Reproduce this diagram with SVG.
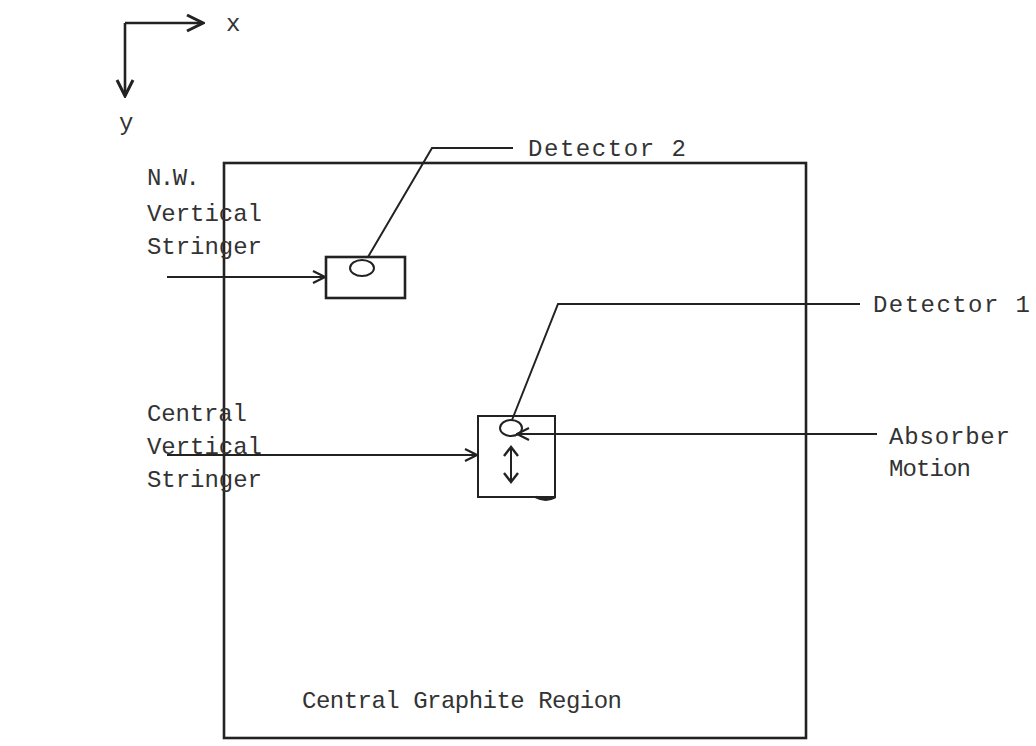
<svg xmlns="http://www.w3.org/2000/svg" width="1036" height="746" viewBox="0 0 1036 746">
<style>
.ln{fill:none;stroke:#222;stroke-width:2}
.th{fill:none;stroke:#222;stroke-width:2.6}
text{font-family:"Liberation Mono","Courier New",monospace;font-size:24px;fill:#333}
</style>
<defs>
<marker id="ah" viewBox="0 0 14 14" refX="13" refY="7" markerWidth="14" markerHeight="14" markerUnits="userSpaceOnUse" orient="auto">
<path d="M1,1 L13,7 L1,13" fill="none" stroke="#222" stroke-width="2.2"/>
</marker>
<marker id="ahb" viewBox="0 0 20 20" refX="18" refY="10" markerWidth="20" markerHeight="20" markerUnits="userSpaceOnUse" orient="auto">
<path d="M2,2 L18,10 L2,18" fill="none" stroke="#222" stroke-width="3"/>
</marker>
</defs>
<rect width="1036" height="746" fill="#fff"/>
<g id="axes">
<path class="th" d="M125,23 L203,23" marker-end="url(#ahb)"/>
<path class="th" d="M125,23 L125,96" marker-end="url(#ahb)"/>
<text x="226" y="31">x</text>
<text x="119" y="130">y</text>
</g>
<g id="region">
<rect class="th" x="224" y="163" width="582" height="575"/>
<text x="302" y="708" textLength="320" lengthAdjust="spacing">Central Graphite Region</text>
</g>
<g id="nw-stringer">
<rect class="th" x="326" y="257" width="79" height="41"/>
<ellipse class="ln" cx="362" cy="268" rx="12" ry="8"/>
</g>
<g id="central-stringer">
<rect class="ln" x="478" y="416" width="77" height="81"/>
<ellipse class="ln" cx="511" cy="428" rx="11" ry="8"/>
<path d="M536,497 Q546,502 555,497" fill="none" stroke="#222" stroke-width="3"/>
<path class="ln" d="M511,449 L511,480"/>
<path d="M504,456 L511,447 L518,456 M504,473 L511,482 L518,473" fill="none" stroke="#222" stroke-width="2.4"/>
</g>
<g id="labels">
<text x="147" y="185" textLength="53" lengthAdjust="spacing">N.W.</text>
<text x="147" y="221" textLength="115" lengthAdjust="spacing">Vertical</text>
<text x="147" y="254" textLength="115" lengthAdjust="spacing">Stringer</text>
<text x="147" y="421" textLength="100" lengthAdjust="spacing">Central</text>
<text x="147" y="454" textLength="115" lengthAdjust="spacing">Vertical</text>
<text x="147" y="487" textLength="115" lengthAdjust="spacing">Stringer</text>
<text x="528" y="156" textLength="158" lengthAdjust="spacing">Detector 2</text>
<text x="873" y="312" textLength="157" lengthAdjust="spacing">Detector 1</text>
<text x="889" y="444" textLength="121" lengthAdjust="spacing">Absorber</text>
<text x="889" y="476" textLength="82" lengthAdjust="spacing">Motion</text>
</g>
<g id="connectors">
<path class="ln" d="M368,257 L432,148 L513,148"/>
<path class="ln" d="M512,420 L558,304 L860,304"/>
<path class="ln" d="M167,277 L325,277" marker-end="url(#ah)"/>
<path class="ln" d="M167,455 L477,455" marker-end="url(#ah)"/>
<path class="ln" d="M877,434 L517,434" marker-end="url(#ah)"/>
</g>
</svg>
